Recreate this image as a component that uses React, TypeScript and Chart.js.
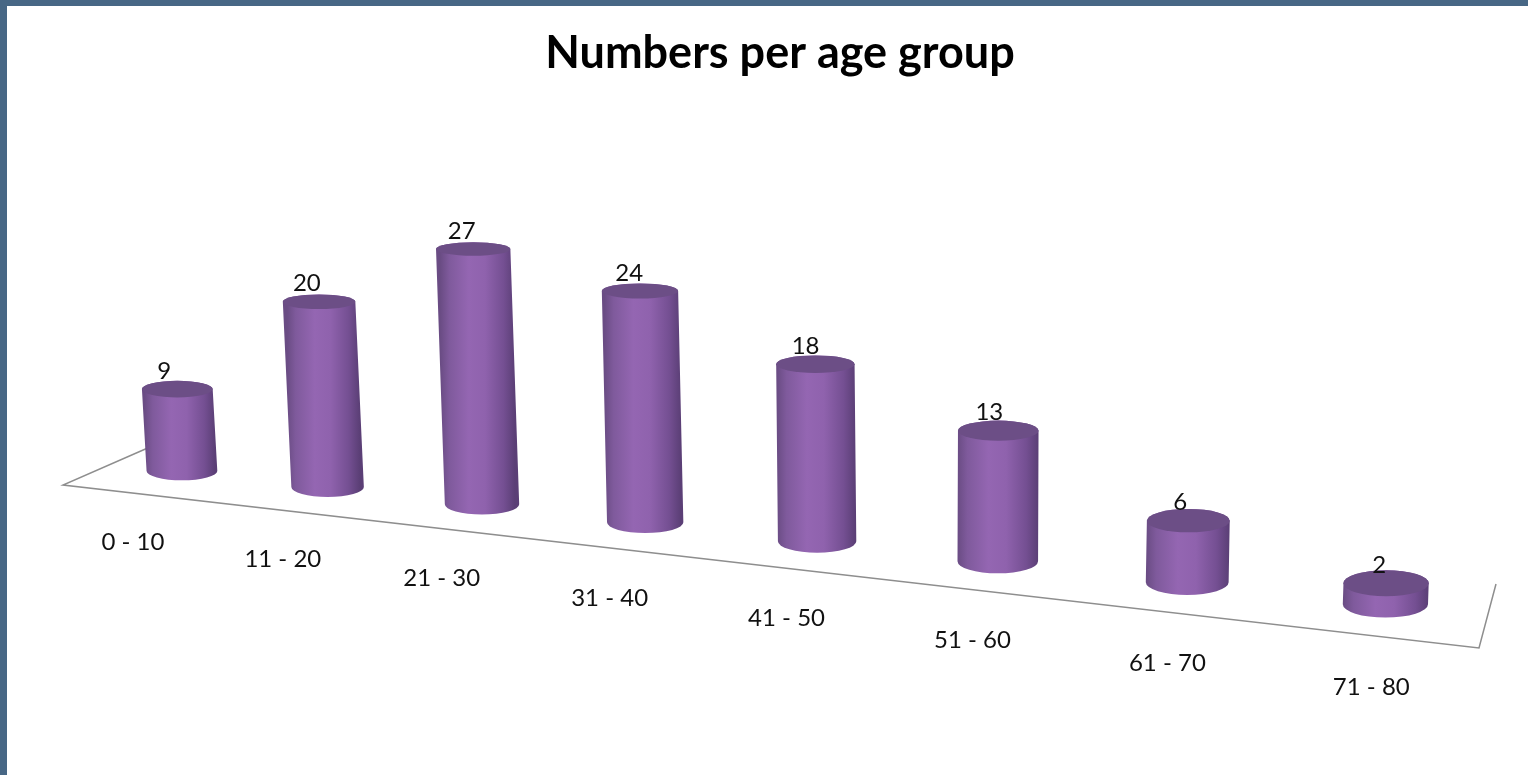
import React, { useEffect, useRef } from "react";
import { Chart, registerables } from "chart.js";

Chart.register(...registerables);

// ---------- data ----------
const chartTitle = "Numbers per age group";
const ageGroups = ["0 - 10", "11 - 20", "21 - 30", "31 - 40", "41 - 50", "51 - 60", "61 - 70", "71 - 80"];
const counts = [9, 20, 27, 24, 18, 13, 6, 2];
const yAxisMax = 30;

// ---------- style ----------
const FRAME_COLOR = "#476785";
const FONT = "Lato, 'Open Sans', 'DejaVu Sans', sans-serif";
const TOP_COLOR = "#6c4e86";
const FLOOR_COLOR = "#8e8e8e";

// perspective warp of the category axis (bars further right are closer to the viewer)
const warp = (t: number) => 0.0335 + 0.774 * t + 0.198 * t * t;

const cylinderPlugin = {
  id: "cylinders3d",
  beforeDatasetsDraw(chart: any) {
    const { ctx, chartArea: a } = chart;
    ctx.save();
    ctx.strokeStyle = FLOOR_COLOR;
    ctx.lineWidth = 1.5;
    ctx.beginPath();
    ctx.moveTo(a.left + 85, a.bottom - 24);
    ctx.lineTo(a.left - 2, a.bottom + 14);
    ctx.lineTo(a.right - 1, a.bottom + 177);
    ctx.lineTo(a.right + 16, a.bottom + 113);
    ctx.stroke();
    ctx.restore();
  },
  afterDatasetsDraw(chart: any) {
    const { ctx, chartArea: a } = chart;
    const meta = chart.getDatasetMeta(0);
    const W = a.right - a.left;
    const proj = (x: number) => a.left + W * warp((x - a.left) / W);
    const x0 = proj(meta.data[0].x);
    const vanishX = a.left + 0.625 * W;
    const values = chart.data.datasets[0].data as number[];
    const labels = chart.data.labels as string[];

    ctx.save();
    meta.data.forEach((bar: any, i: number) => {
      const p = bar.getProps(["x", "y", "base", "width"], true);
      const xc = proj(p.x);
      const dx = xc - x0;
      const baseY = a.bottom + 0.1107 * dx;
      const grow = 1 + 0.000128 * dx;
      const h = (p.base - p.y) * grow;
      const rx = (p.width / 2) * (1 + 0.00017 * dx);
      const topY = baseY - h;
      const topX = xc + (xc - vanishX) * h * 7.4e-5;
      const ryOf = (y: number) => rx * (0.09 + 0.00037 * y);
      const ryB = ryOf(baseY);
      const ryT = ryOf(topY);

      // side
      const gx = (xc + topX) / 2;
      const g = ctx.createLinearGradient(gx - rx, 0, gx + rx, 0);
      g.addColorStop(0, "#6a4c84");
      g.addColorStop(0.12, "#7f5a9c");
      g.addColorStop(0.38, "#9466b2");
      g.addColorStop(0.6, "#8f62ad");
      g.addColorStop(0.85, "#744f92");
      g.addColorStop(1, "#5b3f76");
      ctx.beginPath();
      ctx.moveTo(topX - rx, topY);
      ctx.lineTo(xc - rx, baseY);
      ctx.ellipse(xc, baseY, rx, ryB, 0, Math.PI, 0, true);
      ctx.lineTo(topX + rx, topY);
      ctx.ellipse(topX, topY, rx, ryT, 0, 0, Math.PI, true);
      ctx.closePath();
      ctx.fillStyle = g;
      ctx.fill();

      // top
      ctx.beginPath();
      ctx.ellipse(topX, topY, rx, ryT, 0, 0, Math.PI * 2);
      ctx.fillStyle = TOP_COLOR;
      ctx.fill();

      // value label
      ctx.fillStyle = "#111111";
      ctx.font = `24px ${FONT}`;
      ctx.textAlign = "center";
      ctx.textBaseline = "middle";
      ctx.fillText(String(values[i]), topX - 13 + 0.005 * dx, topY - 18);

      // category label
      ctx.fillText(labels[i], xc - 49 + 0.029 * dx, baseY + 71 + 0.01 * dx);
    });

    // title
    ctx.font = `bold 45px ${FONT}`;
    ctx.textAlign = "center";
    ctx.textBaseline = "alphabetic";
    ctx.fillStyle = "#000000";
    ctx.fillText(chartTitle, chart.width / 2 + 16, 68);
    ctx.restore();
  },
};

export default function App() {
  const ref = useRef<HTMLCanvasElement | null>(null);

  useEffect(() => {
    if (!ref.current) return;
    const chart = new Chart(ref.current, {
      type: "bar",
      data: {
        labels: ageGroups,
        datasets: [
          {
            data: counts,
            backgroundColor: "rgba(0,0,0,0)",
            borderWidth: 0,
            barPercentage: 0.4,
            categoryPercentage: 1,
          },
        ],
      },
      options: {
        responsive: false,
        maintainAspectRatio: false,
        animation: false,
        events: [],
        layout: { padding: { left: 65, right: 48, top: 198, bottom: 304 } },
        plugins: {
          legend: { display: false },
          title: { display: false },
          tooltip: { enabled: false },
        },
        scales: {
          x: { display: false },
          y: { display: false, min: 0, max: yAxisMax },
        },
      },
      plugins: [cylinderPlugin],
    });
    return () => chart.destroy();
  }, []);

  return (
    <div style={{ position: "fixed", left: 0, top: 0, width: 1528, height: 775, background: FRAME_COLOR }}>
      <div style={{ position: "absolute", left: 7, top: 6, right: 0, bottom: 0, background: "#ffffff" }} />
      <canvas
        ref={ref}
        width={1528}
        height={775}
        style={{ position: "absolute", left: 0, top: 0, width: 1528, height: 775 }}
      />
    </div>
  );
}
